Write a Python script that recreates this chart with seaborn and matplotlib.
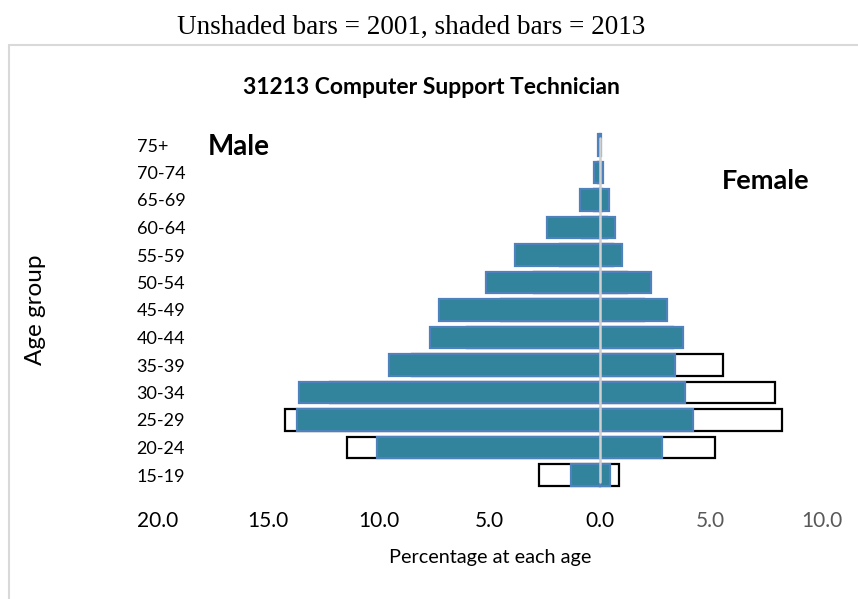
import matplotlib
matplotlib.use('Agg')
import pandas as pd
import seaborn as sns
from matplotlib import pyplot as plt
from matplotlib.patches import Rectangle

# Data (percent at each age)
age_groups = ['75+', '70-74', '65-69', '60-64', '55-59', '50-54', '45-49',
              '40-44', '35-39', '30-34', '25-29', '20-24', '15-19']
male_2001 = [0.0, 0.1, 0.3, 0.8, 1.8, 3.0, 4.5, 6.0, 8.5, 12.2, 14.25, 11.45, 2.75]
female_2001 = [0.0, 0.0, 0.1, 0.3, 0.6, 1.2, 2.0, 3.3, 5.55, 7.9, 8.2, 5.2, 0.83]
male_2013 = [0.1, 0.3, 0.9, 2.4, 3.85, 5.15, 7.3, 7.7, 9.55, 13.6, 13.7, 10.1, 1.33]
female_2013 = [0.05, 0.12, 0.4, 0.65, 1.0, 2.3, 3.0, 3.75, 3.4, 3.85, 4.2, 2.8, 0.45]
x_ticks = [-20, -15, -10, -5, 0, 5, 10]
x_tick_labels = ['20.0', '15.0', '10.0', '5.0', '0.0', '5.0', '10.0']

df = pd.DataFrame({'age': age_groups,
                   'male_2001': [-v for v in male_2001],
                   'female_2001': female_2001,
                   'male_2013': [-v for v in male_2013],
                   'female_2013': female_2013})

sns.set_style('white')
plt.rcParams['font.family'] = ['Lato', 'DejaVu Sans']
plt.rcParams['text.color'] = 'black'
plt.rcParams['xtick.color'] = 'black'
plt.rcParams['ytick.color'] = 'black'

fig = plt.figure(figsize=(8.58, 5.99), dpi=100)
ax = fig.add_axes([157.5 / 858, 1 - 488.75 / 599, 664 / 858, 357.5 / 599])

teal = '#31849B'
edge_blue = '#4F81BD'
bar_w = 0.78

for col in ['male_2001', 'female_2001']:
    sns.barplot(data=df, x=col, y='age', order=age_groups, color='white',
                edgecolor='black', linewidth=1.6, width=bar_w, errorbar=None,
                saturation=1, ax=ax)
for col in ['male_2013', 'female_2013']:
    sns.barplot(data=df, x=col, y='age', order=age_groups, color=teal,
                edgecolor=edge_blue, linewidth=1.6, width=bar_w, errorbar=None,
                saturation=1, ax=ax)

ax.axvline(0, color='#D0D0D0', lw=1.8, ymin=0.02, ymax=0.98, zorder=5)

ax.set_xlim(-20, 10)
ax.set_ylim(12.5, -0.5)
ax.set_xticks(x_ticks)
ax.set_xticklabels(x_tick_labels, fontsize=15)
for lbl, v in zip(ax.get_xticklabels(), x_ticks):
    lbl.set_color('#595959' if v > 0 else 'black')
ax.tick_params(axis='x', length=0, pad=16)
ax.tick_params(axis='y', length=0, pad=15)
for lbl in ax.get_yticklabels():
    lbl.set_horizontalalignment('left')
    lbl.set_fontsize(13)
ax.set_xlabel('')
ax.set_ylabel('')
sns.despine(ax=ax, left=True, bottom=True)

fig.text(490 / 858, 1 - 558 / 599, 'Percentage at each age', fontsize=14.3,
         ha='center', va='center')
fig.text(35 / 858, 1 - 310 / 599, 'Age group', fontsize=17.5, rotation=90,
         ha='center', va='center')
fig.text(431 / 858, 1 - 87 / 599, '31213 Computer Support Technician',
         fontsize=16.5, fontweight='bold', ha='center', va='center')
fig.text(208 / 858, 1 - 147 / 599, 'Male', fontsize=20, fontweight='bold',
         ha='left', va='center')
fig.text(722 / 858, 1 - 181 / 599, 'Female', fontsize=19.5, fontweight='bold',
         ha='left', va='center')
fig.text(411 / 858, 1 - 27 / 599, 'Unshaded bars = 2001, shaded bars = 2013',
         fontsize=19.5, family='Liberation Serif', ha='center', va='center')

# Chart frame
fig.patches.append(Rectangle((9 / 858, -0.1), 1.0, 1 - 45 / 599 + 0.1,
                             transform=fig.transFigure, fill=False,
                             edgecolor='#D9D9D9', lw=1.5, zorder=0))

fig.savefig('out.png', dpi=100)
